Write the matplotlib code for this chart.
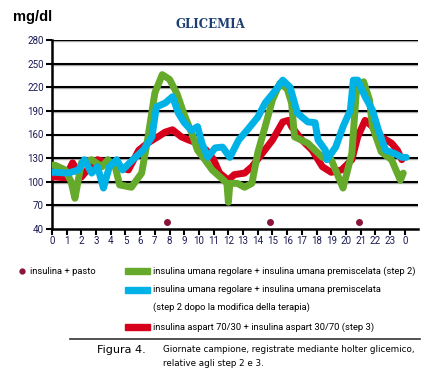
import matplotlib
matplotlib.use("Agg")
import matplotlib.pyplot as plt
from matplotlib import font_manager
from matplotlib.lines import Line2D

# glycemia readings (mg/dl) against hour of day
green_h = [0, 0.2, 0.9, 1.3, 1.56, 2.0, 2.7, 3.4, 3.8, 4.3, 4.6, 5.4, 6.1, 6.5, 7.0,
           7.5, 8.0, 8.5, 9.0, 9.5, 9.9, 10.4, 10.9, 11.5, 11.9, 12.0, 12.1, 12.6,
           13.1, 13.6, 14.0, 14.5, 15.0, 15.5, 16.0, 16.3, 16.5, 17.4, 18.4, 19.0,
           19.8, 20.4, 20.7, 21.2, 21.6, 21.8, 22.4, 23.1, 23.7, 23.9]
green_v = [121, 121, 115, 100, 79, 124, 128, 119, 128, 119, 96, 93, 111, 153, 213,
           236, 230, 212, 185, 162, 140, 128, 115, 105, 98, 74, 98, 98,
           93, 98, 137, 170, 204, 225, 218, 200, 157, 149, 131, 128,
           92, 136, 213, 227, 204, 170, 138, 128, 102, 111]

blue_h = [0, 0.2, 1.1, 1.8, 2.2, 2.7, 3.1, 3.5, 3.9, 4.4, 4.8, 5.5, 6.2, 6.8, 7.1,
          7.7, 8.2, 8.6, 9.0, 9.5, 9.9, 10.2, 10.6, 11.1, 11.6, 12.1, 12.7, 13.3,
          14.0, 14.5, 15.2, 15.7, 16.2, 16.7, 17.4, 17.9, 18.1, 18.6, 18.7, 19.3,
          19.8, 20.3, 20.5, 20.8, 21.3, 21.8, 22.2, 22.7, 23.3, 23.8, 24.1]
blue_v = [112, 112, 111, 115, 128, 111, 119, 92, 119, 128, 115, 128, 140, 157, 195,
          200, 208, 187, 175, 165, 170, 149, 131, 143, 144, 131, 153, 166,
          182, 200, 216, 229, 220, 187, 176, 175, 153, 140, 128, 144,
          170, 191, 229, 229, 208, 191, 166, 140, 136, 131, 131]

red_h = [0, 0.2, 0.9, 1.4, 2.0, 2.4, 3.1, 3.8, 4.5, 5.2, 5.9, 6.5, 7.2, 7.7, 8.2,
         8.8, 9.3, 9.9, 10.5, 11.0, 11.4, 12.0, 12.4, 13.1, 13.6, 14.3, 15.0, 15.7,
         16.1, 16.3, 17.0, 17.7, 18.4, 19.0, 19.7, 20.4, 20.8, 21.3, 21.8, 22.4,
         23.1, 23.5, 23.8]
red_v = [106, 106, 105, 124, 106, 115, 128, 124, 119, 115, 140, 149, 157, 163, 166,
         157, 153, 149, 140, 128, 111, 102, 109, 111, 119, 136, 153, 176,
         178, 170, 153, 140, 119, 112, 115, 128, 157, 178, 170, 157,
         149, 140, 128]

# insulina + pasto markers
meal_h = [7.8, 14.8, 20.9]
meal_v = [49, 49, 49]

x_ticks = list(range(25))
x_labels = [str(h) for h in range(24)] + ["0"]
y_ticks = [40, 70, 100, 130, 160, 190, 220, 250, 280]

GREEN = "#66aa2c"
BLUE = "#00b2e6"
RED = "#d6001c"
DOT = "#8a1538"

# look for a narrow face, the reference uses a condensed sans
names = {f.name for f in font_manager.fontManager.ttflist}
if "Liberation Sans Narrow" in names:
    NARROW = dict(family=["Liberation Sans Narrow"])
    leg_size = 8.5
    tick_size = 8
else:
    NARROW = dict(family=["Roboto", "DejaVu Sans"])
    leg_size = 6.75
    tick_size = 7

fig = plt.figure(figsize=(4.31, 3.71), dpi=100)
ax = fig.add_axes([52 / 431, 1 - 229 / 371, 366 / 431, 189 / 371])

for y in y_ticks[1:]:
    ax.axhline(y - 1.2, color="#b0b0b0", lw=1.0, zorder=0.5)
    ax.axhline(y, color="black", lw=1.5, zorder=1)

ax.plot(red_h, red_v, color=RED, lw=5, solid_capstyle="round", solid_joinstyle="round", zorder=3)
ax.plot(green_h, green_v, color=GREEN, lw=5, solid_capstyle="round", solid_joinstyle="round", zorder=4)
ax.plot(blue_h, blue_v, color=BLUE, lw=5, solid_capstyle="round", solid_joinstyle="round", zorder=5)
ax.plot(meal_h, meal_v, "o", color=DOT, ms=4, zorder=6)

ax.set_xlim(0, 24.9)
ax.set_ylim(40, 280)
ax.set_xticks(x_ticks)
ax.set_xticklabels(x_labels)
ax.set_yticks(y_ticks)
for s in ["top", "right"]:
    ax.spines[s].set_visible(False)
ax.spines["left"].set_linewidth(1.8)
ax.spines["bottom"].set_linewidth(1.8)
ax.tick_params(axis="both", direction="out", width=1.5, length=4, colors="black",
               labelcolor="#1a1a55", labelsize=tick_size)
ax.tick_params(axis="x", pad=1)
ax.tick_params(axis="y", pad=2)
for lbl in ax.get_xticklabels() + ax.get_yticklabels():
    lbl.set_family(NARROW["family"])

fig.text(13 / 431, 1 - 17 / 371, "mg/dl", fontsize=10.5, fontweight="bold", va="center",
         family=["Liberation Sans", "DejaVu Sans"])
fig.text(210 / 431, 1 - 24 / 371, "GLICEMIA", fontsize=8.5, fontweight="bold", va="center",
         ha="center", color="#1d3f73", family=["DejaVu Serif"])

# legend
fig.add_artist(Line2D([22 / 431], [1 - 271 / 371], marker="o", color=DOT, ms=3.5,
                      transform=fig.transFigure))
fig.text(30 / 431, 1 - 271 / 371, "insulina + pasto", fontsize=leg_size, va="center", **NARROW)

patches = [(GREEN, 271), (BLUE, 290), (RED, 327)]
for col, yp in patches:
    fig.patches.append(plt.Rectangle((125 / 431, 1 - (yp + 3) / 371), 25 / 431, 6 / 371,
                                     color=col, transform=fig.transFigure))
leg_txt = [("insulina umana regolare + insulina umana premiscelata (step 2)", 271),
           ("insulina umana regolare + insulina umana premiscelata", 290),
           ("(step 2 dopo la modifica della terapia)", 307),
           ("insulina aspart 70/30 + insulina aspart 30/70 (step 3)", 327)]
for t, yp in leg_txt:
    fig.text(153 / 431, 1 - yp / 371, t, fontsize=leg_size, va="center", **NARROW)

fig.add_artist(Line2D([70 / 431, 420 / 431], [1 - 339 / 371, 1 - 339 / 371], color="#333333",
                      lw=1.2, transform=fig.transFigure))
fig.text(97 / 431, 1 - 350 / 371, "Figura 4.", fontsize=8, va="center", family=["DejaVu Sans"])
fig.text(163 / 431, 1 - 350 / 371, "Giornate campione, registrate mediante holter glicemico,",
         fontsize=6.3, va="center", family=["DejaVu Sans"])
fig.text(163 / 431, 1 - 364 / 371, "relative agli step 2 e 3.", fontsize=6.3, va="center",
         family=["DejaVu Sans"])

fig.savefig("out.png", dpi=100)
